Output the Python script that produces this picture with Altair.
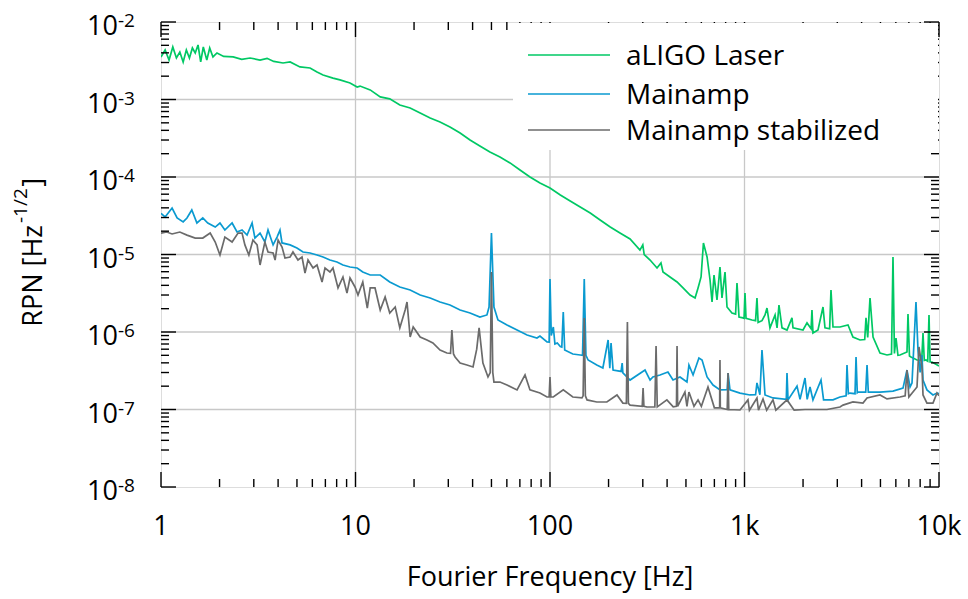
import altair as alt
import pandas as pd

# Relative power noise spectra: (frequency in Hz, RPN in 1/sqrt(Hz))
LASER = [
    (1.00, 3.54e-3), (1.05, 4.35e-3), (1.10, 3.23e-3), (1.15, 4.76e-3), (1.20, 3.43e-3),
    (1.25, 4.10e-3), (1.30, 3.05e-3), (1.35, 4.35e-3), (1.40, 3.43e-3), (1.45, 4.62e-3),
    (1.50, 3.98e-3), (1.55, 5.05e-3), (1.60, 3.05e-3), (1.65, 4.76e-3), (1.72, 3.23e-3),
    (1.78, 4.62e-3), (1.85, 3.54e-3), (1.94, 3.98e-3), (2.10, 3.60e-3), (2.35, 3.54e-3),
    (2.60, 3.30e-3), (2.87, 3.43e-3), (3.23, 3.23e-3), (3.51, 3.40e-3), (3.80, 3.10e-3),
    (4.24, 2.96e-3), (4.61, 3.05e-3), (5.18, 2.63e-3), (5.84, 2.55e-3), (6.34, 2.26e-3),
    (6.81, 2.07e-3), (7.66, 1.89e-3), (8.32, 1.79e-3), (9.37, 1.63e-3), (10.2, 1.45e-3),
    (10.55, 1.49e-3), (11.9, 1.33e-3), (13.4, 1.08e-3), (15.0, 1.02e-3), (16.9, 8.49e-4),
    (19.1, 7.77e-4), (21.5, 6.70e-4), (24.2, 5.77e-4), (27.2, 5.13e-4), (30.6, 4.42e-4),
    (34.5, 3.70e-4), (38.8, 3.00e-4), (43.6, 2.51e-4), (49.1, 2.10e-4), (55.3, 1.81e-4),
    (62.3, 1.52e-4), (70.1, 1.23e-4), (78.9, 1.00e-4), (88.8, 8.37e-5), (100, 7.21e-5),
    (113, 5.86e-5), (127, 4.90e-5), (143, 4.10e-5), (161, 3.43e-5), (181, 2.79e-5),
    (204, 2.26e-5), (229, 1.89e-5), (258, 1.585e-5), (290, 1.14e-5), (300, 1.33e-5),
    (305, 1.00e-5), (327, 8.49e-6), (355, 6.70e-6), (372, 7.77e-6), (381, 5.95e-6),
    (414, 5.13e-6), (450, 4.42e-6), (483, 3.70e-6), (525, 3.00e-6), (557, 2.75e-6),
    (577, 3.70e-6), (598, 5.13e-6), (615, 1.41e-5), (642, 9.29e-6), (665, 4.69e-6),
    (681, 2.44e-6), (697, 5.44e-6), (722, 2.59e-6), (748, 6.90e-6), (766, 2.75e-6),
    (794, 5.95e-6), (813, 2.10e-6), (862, 1.76e-6), (900, 1.70e-6), (915, 4.29e-6),
    (937, 1.56e-6), (982, 1.52e-6), (995, 1.50e-6), (1006, 3.18e-6), (1018, 1.50e-6),
    (1093, 1.43e-6), (1140, 1.40e-6), (1159, 2.75e-6), (1175, 1.33e-6), (1230, 1.40e-6),
    (1275, 1.66e-6), (1305, 2.04e-6), (1352, 1.13e-6), (1436, 1.66e-6), (1470, 1.13e-6),
    (1504, 2.23e-6), (1559, 1.13e-6), (1654, 1.06e-6), (1754, 1.52e-6), (1776, 1.13e-6),
    (1999, 1.06e-6), (2096, 1.31e-6), (2200, 1.10e-6), (2223, 1.92e-6), (2249, 9.71e-7),
    (2387, 1.06e-6), (2533, 2.10e-6), (2593, 1.13e-6), (2740, 1.10e-6), (2784, 3.48e-6),
    (2851, 1.16e-6), (3097, 1.16e-6), (3405, 1.23e-6), (3611, 8.62e-7), (3925, 7.89e-7),
    (4150, 8.00e-7), (4214, 1.52e-6), (4300, 8.50e-7), (4419, 2.75e-6), (4580, 8.62e-7),
    (4974, 5.36e-7), (5404, 5.05e-7), (5700, 5.20e-7), (5800, 9.30e-6), (5900, 5.30e-7),
    (6011, 8.37e-7), (6150, 5.00e-7), (6302, 5.05e-7), (6846, 5.52e-7), (6928, 1.71e-6),
    (7050, 4.90e-7), (7178, 4.76e-7), (7708, 4.35e-7), (8150, 4.30e-7), (8275, 9.71e-7),
    (8400, 4.30e-7), (8570, 4.35e-7), (8750, 4.20e-7), (8884, 1.66e-6), (9000, 4.10e-7),
    (9204, 4.10e-7), (10000, 3.64e-7),
]

MAINAMP = [
    (1.00, 3.40e-5), (1.05, 3.05e-5), (1.14, 3.98e-5), (1.21, 2.96e-5), (1.30, 2.63e-5),
    (1.36, 2.96e-5), (1.44, 3.75e-5), (1.53, 2.55e-5), (1.64, 2.96e-5), (1.74, 2.55e-5),
    (1.90, 2.26e-5), (2.01, 2.55e-5), (2.13, 2.07e-5), (2.32, 2.55e-5), (2.46, 1.95e-5),
    (2.61, 2.07e-5), (2.77, 1.78e-5), (2.94, 2.55e-5), (3.04, 1.63e-5), (3.23, 1.89e-5),
    (3.42, 1.45e-5), (3.55, 2.07e-5), (3.77, 1.33e-5), (3.95, 1.68e-5), (4.09, 2.07e-5),
    (4.19, 1.41e-5), (4.61, 1.33e-5), (5.00, 1.21e-5), (5.37, 1.077e-5), (5.84, 1.046e-5),
    (6.34, 9.85e-6), (6.81, 9.29e-6), (7.39, 8.49e-6), (8.03, 8.00e-6), (8.62, 7.32e-6),
    (9.37, 6.90e-6), (10.2, 6.70e-6), (10.9, 5.95e-6), (11.9, 5.44e-6), (13.4, 5.44e-6),
    (15.0, 4.42e-6), (16.9, 3.81e-6), (19.1, 3.48e-6), (21.5, 3.00e-6), (24.2, 2.75e-6),
    (27.2, 2.44e-6), (30.6, 2.23e-6), (34.5, 1.92e-6), (38.8, 1.76e-6), (43.6, 1.56e-6),
    (47.4, 1.66e-6), (48.6, 2.10e-6), (50.0, 1.89e-5), (51.5, 2.10e-6), (54.0, 1.43e-6),
    (60.1, 1.23e-6), (67.7, 1.06e-6), (76.2, 9.15e-7), (85.7, 8.37e-7), (88.8, 8.88e-7),
    (96.5, 7.43e-7), (99.0, 7.40e-7), (100, 4.83e-6), (101.5, 9.00e-7), (104, 1.16e-6),
    (106, 7.00e-7), (109, 7.21e-7), (113, 6.50e-7), (115, 6.40e-7), (117, 1.81e-6),
    (119, 5.86e-7), (131, 5.20e-7), (143, 5.05e-7), (147, 5.00e-7), (150, 4.83e-6),
    (153, 5.00e-7), (157, 4.35e-7), (174, 3.75e-7), (187, 3.43e-7), (199, 7.89e-7),
    (203, 3.40e-7), (206, 7.21e-7), (211, 3.23e-7), (232, 3.10e-7), (235, 3.98e-7),
    (237, 2.96e-7), (258, 2.40e-7), (308, 3.23e-7), (327, 2.40e-7), (338, 2.63e-7),
    (368, 2.79e-7), (404, 3.05e-7), (429, 2.40e-7), (466, 2.63e-7), (506, 2.26e-7),
    (518, 3.75e-7), (544, 2.79e-7), (583, 4.62e-7), (605, 4.35e-7), (642, 2.63e-7),
    (689, 2.07e-7), (748, 1.79e-7), (815, 1.80e-7), (823, 2.96e-7), (842, 1.79e-7),
    (948, 1.63e-7), (1067, 1.54e-7), (1140, 1.55e-7), (1159, 2.20e-7), (1200, 1.55e-7),
    (1230, 5.86e-7), (1275, 1.54e-7), (1401, 1.41e-7), (1640, 1.35e-7), (1654, 2.96e-7),
    (1674, 1.33e-7), (1862, 2.00e-7), (1930, 1.35e-7), (2047, 2.55e-7), (2100, 1.35e-7),
    (2172, 1.95e-7), (2249, 1.33e-7), (2474, 2.40e-7), (2550, 1.33e-7), (2851, 1.33e-7),
    (3097, 1.45e-7), (3330, 1.50e-7), (3365, 3.75e-7), (3420, 1.60e-7), (3486, 1.63e-7),
    (3700, 1.60e-7), (3745, 4.76e-7), (3800, 1.65e-7), (3833, 1.68e-7), (4200, 1.68e-7),
    (4266, 3.75e-7), (4330, 1.68e-7), (4419, 1.68e-7), (4974, 1.68e-7), (5800, 1.73e-7),
    (6531, 1.89e-7), (6846, 3.23e-7), (7096, 1.95e-7), (7264, 2.20e-7), (7615, 2.44e-6),
    (7798, 5.86e-7), (8000, 3.00e-7), (8176, 5.05e-7), (8275, 2.40e-7), (8670, 1.79e-7),
    (9311, 1.54e-7), (9766, 1.63e-7), (10000, 1.60e-7),
]

STABILIZED = [
    (1.00, 1.89e-5), (1.07, 1.95e-5), (1.14, 1.84e-5), (1.25, 1.95e-5), (1.36, 1.78e-5),
    (1.50, 1.63e-5), (1.64, 1.63e-5), (1.79, 1.89e-5), (1.90, 1.45e-5), (2.01, 9.85e-6),
    (2.13, 1.68e-5), (2.32, 1.45e-5), (2.49, 1.89e-5), (2.61, 1.89e-5), (2.70, 1.33e-5),
    (2.83, 9.85e-6), (2.97, 1.54e-5), (3.12, 1.33e-5), (3.23, 7.32e-6), (3.42, 1.45e-5),
    (3.55, 1.077e-5), (3.77, 1.046e-5), (3.86, 8.49e-6), (4.00, 1.54e-5), (4.19, 1.25e-5),
    (4.34, 9.02e-6), (4.61, 9.29e-6), (4.77, 1.077e-5), (5.06, 8.49e-6), (5.31, 9.29e-6),
    (5.50, 5.77e-6), (5.70, 8.49e-6), (6.05, 6.70e-6), (6.34, 7.32e-6), (6.73, 4.42e-6),
    (6.97, 6.70e-6), (7.39, 5.95e-6), (7.66, 6.70e-6), (8.13, 3.70e-6), (8.62, 5.13e-6),
    (9.04, 3.18e-6), (9.37, 4.98e-6), (9.94, 3.81e-6), (10.3, 3.00e-6), (10.9, 4.42e-6),
    (11.5, 2.04e-6), (11.9, 3.70e-6), (12.6, 3.70e-6), (13.4, 1.92e-6), (14.2, 2.83e-6),
    (15.0, 1.76e-6), (16.0, 2.10e-6), (16.9, 1.13e-6), (18.0, 1.92e-6), (18.4, 2.44e-6),
    (19.1, 8.62e-7), (19.8, 1.16e-6), (21.5, 8.62e-7), (23.3, 7.89e-7), (25.0, 7.21e-7),
    (27.2, 5.86e-7), (29.5, 5.36e-7), (30.8, 5.30e-7), (31.3, 1.06e-6), (31.9, 5.20e-7),
    (32.5, 4.76e-7), (34.5, 3.98e-7), (37.4, 3.75e-7), (40.2, 3.54e-7), (42.0, 6.00e-7),
    (43.2, 1.13e-6), (45.2, 3.98e-7), (48.0, 2.63e-7), (49.3, 3.00e-7), (50.0, 5.95e-6),
    (50.8, 3.00e-7), (51.5, 2.26e-7), (55.3, 2.26e-7), (60.1, 2.07e-7), (67.7, 1.79e-7),
    (74.4, 2.79e-7), (78.9, 1.79e-7), (88.8, 1.63e-7), (96.5, 1.45e-7), (99.0, 1.45e-7),
    (100, 2.63e-7), (101, 1.45e-7), (104, 1.45e-7), (117, 1.79e-7), (131, 1.45e-7),
    (146, 1.41e-7), (148, 1.50e-7), (150, 1.52e-6), (152, 1.50e-7), (155, 1.33e-7),
    (174, 1.25e-7), (196, 1.25e-7), (221, 1.54e-7), (237, 1.21e-7), (247, 1.20e-7),
    (250, 1.35e-6), (253, 1.20e-7), (258, 1.14e-7), (298, 1.10e-7), (301, 1.89e-7),
    (304, 1.10e-7), (315, 1.077e-7), (346, 1.08e-7), (351, 6.60e-7), (356, 1.08e-7),
    (399, 1.33e-7), (430, 1.08e-7), (447, 1.10e-7), (450, 6.60e-7), (453, 1.10e-7),
    (494, 1.68e-7), (506, 1.10e-7), (518, 1.68e-7), (550, 1.10e-7), (577, 1.33e-7),
    (600, 1.10e-7), (649, 1.95e-7), (700, 1.05e-7), (745, 1.05e-7), (748, 4.35e-7),
    (751, 1.05e-7), (815, 1.00e-7), (823, 2.96e-7), (830, 1.00e-7), (948, 9.86e-8),
    (1042, 1.33e-7), (1060, 9.80e-8), (1159, 1.41e-7), (1180, 9.80e-8), (1245, 1.37e-7),
    (1300, 9.80e-8), (1401, 1.33e-7), (1450, 9.80e-8), (1654, 1.33e-7), (1800, 9.80e-8),
    (2047, 1.00e-7), (2655, 1.00e-7), (3097, 1.077e-7), (3210, 1.14e-7), (3611, 1.25e-7),
    (4066, 1.21e-7), (4266, 1.41e-7), (4974, 1.54e-7), (5404, 1.37e-7), (6302, 1.45e-7),
    (6700, 1.50e-7), (6846, 3.23e-7), (7000, 1.45e-7), (7708, 1.95e-7), (7889, 6.41e-7),
    (8176, 3.54e-7), (8275, 1.54e-7), (8670, 1.21e-7), (9311, 1.21e-7), (9766, 1.63e-7),
    (10000, 1.50e-7),
]

SERIES = ["aLIGO Laser", "Mainamp", "Mainamp stabilized"]
COLORS = ["#00c864", "#0a9ad0", "#6b6b6b"]

X_MAJOR = [1, 10, 100, 1000, 10000]
X_LABELS = ["1", "10", "100", "1k", "10k"]
Y_MAJOR = [1e-2, 1e-3, 1e-4, 1e-5, 1e-6, 1e-7, 1e-8]
Y_EXPONENTS = ["-2", "-3", "-4", "-5", "-6", "-7", "-8"]
X_GRID = [10, 100, 1000]
Y_GRID = [1e-3, 1e-4, 1e-5, 1e-6, 1e-7]
X_MINOR = [m * 10 ** k for k in range(4) for m in range(2, 10)]
Y_MINOR = [m * 10.0 ** k for k in range(-8, -2) for m in range(2, 10)]

W, H = 778, 465
FONT = "Open Sans"
GRID = "#c8c8c8"

x_scale = alt.Scale(type="log", domain=[1, 10000], nice=False)
y_scale = alt.Scale(type="log", domain=[1e-8, 1e-2], nice=False)

layers = []

# decade grid lines
layers.append(
    alt.Chart(pd.DataFrame({"t": X_GRID})).mark_rule(color=GRID, strokeWidth=1.3)
    .encode(x=alt.X("t:Q", scale=x_scale, axis=None), y=alt.value(0), y2=alt.value(H))
)
layers.append(
    alt.Chart(pd.DataFrame({"t": Y_GRID})).mark_rule(color=GRID, strokeWidth=1.3)
    .encode(y=alt.Y("t:Q", scale=y_scale, axis=None), x=alt.value(0), x2=alt.value(W))
)

# the three spectra
for name, pts, color in zip(SERIES, [LASER, MAINAMP, STABILIZED], COLORS):
    df = pd.DataFrame(pts, columns=["f", "v"])
    df["i"] = range(len(df))
    layers.append(
        alt.Chart(df).mark_line(strokeWidth=1.7, clip=True, color=color)
        .encode(x=alt.X("f:Q", scale=x_scale, axis=None),
                y=alt.Y("v:Q", scale=y_scale, axis=None),
                order="i:Q")
    )

# inward tick marks on all four sides
xt_major = pd.DataFrame({"t": X_MAJOR})
xt_minor = pd.DataFrame({"t": X_MINOR})
yt_major = pd.DataFrame({"t": Y_MAJOR})
yt_minor = pd.DataFrame({"t": Y_MINOR})
for data, length in [(xt_major, 15), (xt_minor, 8)]:
    for y0, y1 in [(H, H - length), (0, length)]:
        layers.append(
            alt.Chart(data).mark_rule(color="black", strokeWidth=1.4)
            .encode(x=alt.X("t:Q", scale=x_scale, axis=None),
                    y=alt.value(y0), y2=alt.value(y1))
        )
for data, length in [(yt_major, 15), (yt_minor, 8)]:
    for x0, x1 in [(0, length), (W, W - length)]:
        layers.append(
            alt.Chart(data).mark_rule(color="black", strokeWidth=1.4)
            .encode(y=alt.Y("t:Q", scale=y_scale, axis=None),
                    x=alt.value(x0), x2=alt.value(x1))
        )

# tick labels
xl = pd.DataFrame({"t": X_MAJOR, "label": X_LABELS})
layers.append(
    alt.Chart(xl).mark_text(font=FONT, fontSize=27, color="black",
                            baseline="alphabetic", align="center")
    .encode(x=alt.X("t:Q", scale=x_scale, axis=None), y=alt.value(H + 48), text="label:N")
)
yl = pd.DataFrame({"t": Y_MAJOR, "exp": Y_EXPONENTS})
layers.append(
    alt.Chart(yl).mark_text(font=FONT, fontSize=27, color="black",
                            baseline="alphabetic", align="right", dy=13)
    .encode(y=alt.Y("t:Q", scale=y_scale, axis=None), x=alt.value(-43), text=alt.value("10"))
)
layers.append(
    alt.Chart(yl).mark_text(font=FONT, fontSize=19, color="black",
                            baseline="alphabetic", align="left", dy=5)
    .encode(y=alt.Y("t:Q", scale=y_scale, axis=None), x=alt.value(-43), text="exp:N")
)

one = pd.DataFrame({"k": [0]})

# axis titles
layers.append(
    alt.Chart(one).mark_text(font=FONT, fontSize=27, color="black",
                             baseline="alphabetic", align="center")
    .encode(x=alt.value(W / 2), y=alt.value(H + 99), text=alt.value("Fourier Frequency [Hz]"))
)
layers.append(
    alt.Chart(one).mark_text(font=FONT, fontSize=27, color="black", angle=270,
                             baseline="alphabetic", align="right")
    .encode(x=alt.value(-119), y=alt.value(203), text=alt.value("RPN [Hz"))
)
layers.append(
    alt.Chart(one).mark_text(font=FONT, fontSize=19, color="black", angle=270,
                             baseline="alphabetic", align="left")
    .encode(x=alt.value(-134), y=alt.value(201), text=alt.value("-1/2"))
)
layers.append(
    alt.Chart(one).mark_text(font=FONT, fontSize=27, color="black", angle=270,
                             baseline="alphabetic", align="right")
    .encode(x=alt.value(-119), y=alt.value(156), text=alt.value("]"))
)

# legend box with line samples
layers.append(
    alt.Chart(one).mark_rect(color="white")
    .encode(x=alt.value(352), x2=alt.value(W - 1), y=alt.value(1), y2=alt.value(128))
)
for k, (name, color) in enumerate(zip(SERIES, COLORS)):
    ly = [33, 72, 108][k]
    layers.append(
        alt.Chart(one).mark_rule(color=color, strokeWidth=1.7)
        .encode(x=alt.value(367), x2=alt.value(449), y=alt.value(ly))
    )
    layers.append(
        alt.Chart(one).mark_text(font=FONT, fontSize=28, color="black",
                                 baseline="middle", align="left")
        .encode(x=alt.value(465), y=alt.value(ly + 2), text=alt.value(name))
    )

chart = (
    alt.layer(*layers)
    .properties(width=W, height=H,
                padding={"left": 161, "top": 22, "right": 29, "bottom": 112},
                autosize=alt.AutoSizeParams(type="none"))
    .configure_view(stroke="black", strokeWidth=2)
    .configure(background="white")
)

chart.save("out.html", embed_options={"renderer": "svg", "actions": False})
